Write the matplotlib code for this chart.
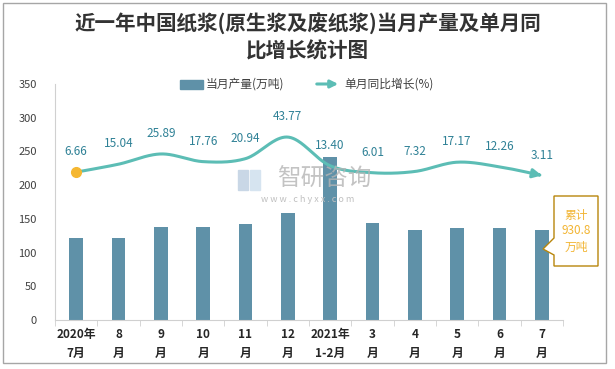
import numpy as np
import matplotlib
matplotlib.use("Agg")
import matplotlib.pyplot as plt
from matplotlib.patches import Rectangle, Polygon

plt.rcParams['font.family'] = ['Noto Sans CJK SC', 'DejaVu Sans']

# =============================
# Data
# =============================
months = ["2020年\n7月", "8\n月", "9\n月", "10\n月", "11\n月", "12\n月",
          "2021年\n1-2月", "3\n月", "4\n月", "5\n月", "6\n月", "7\n月"]
output = [121, 121, 138, 138, 142.5, 159, 242, 144, 133.5, 136.5, 136.5, 133.5]
growth = [6.66, 15.04, 25.89, 17.76, 20.94, 43.77, 13.40, 6.01, 7.32, 17.17, 12.26, 3.11]
total_label = "累计\n930.8\n万吨"

BAR = "#5F91A8"
LINE = "#5CBDB5"
LABEL = "#2F8196"
W, H = 615, 369


def fx(px):
    return px / W


def fy(py):
    return 1 - py / H


def smooth(xs, ys, n=40):
    # Bezier smoothing like the spreadsheet "smoothed line"
    pts = np.column_stack([xs, ys]).astype(float)
    ext = np.vstack([pts[0], pts, pts[-1]])
    out = []
    for i in range(1, len(ext) - 2):
        p0, p1, p2, p3 = ext[i - 1:i + 3]
        t = np.linspace(0, 1, n)[:, None]
        c1 = p1 + (p2 - p0) / 6
        c2 = p2 - (p3 - p1) / 6
        seg = (1 - t)**3 * p1 + 3 * (1 - t)**2 * t * c1 + 3 * (1 - t) * t**2 * c2 + t**3 * p2
        out.append(seg if i == 1 else seg[1:])
    return np.vstack(out)


fig = plt.figure(figsize=(6.15, 3.69), dpi=100)
ax = fig.add_axes([fx(55), fy(320), fx(563) - fx(55), fy(84) - fy(320)])
ax2 = ax.twinx()

x = np.arange(len(months))
ax.bar(x, output, width=0.33, color=BAR, zorder=2)
ax.set_xlim(-0.5, len(months) - 0.5)
ax.set_ylim(0, 350)
ax.set_yticks(range(0, 351, 50))
ax.set_xticks(x)
ax.set_xticklabels(months, fontsize=8.5, fontweight='bold', color='#262626', linespacing=1.6)
ax.set_xticks(np.arange(-0.5, len(months), 1), minor=True)
ax.tick_params(axis='x', which='major', length=0, pad=6)
ax.tick_params(axis='x', which='minor', length=4, color='#D0D0D0')
ax.tick_params(axis='y', length=0, labelsize=8, labelcolor='#404040', pad=13)
for s in ['top', 'right']:
    ax.spines[s].set_visible(False)
ax.spines['left'].set_color('#D0D0D0')
ax.spines['bottom'].set_color('#D0D0D0')

# growth line on hidden secondary axis
ax2.set_ylim(-150, 100)
ax2.axis('off')
curve = smooth(x, growth)
ax2.plot(curve[:-6, 0], curve[:-6, 1], color=LINE, lw=2.2, zorder=3, solid_capstyle='round')
ax2.annotate('', xy=(curve[-1, 0], curve[-1, 1]), xytext=(curve[-8, 0], curve[-8, 1]),
             arrowprops=dict(arrowstyle='-|>', color=LINE, lw=2.2, mutation_scale=13))
ax2.plot(x[0], growth[0], 'o', color='#F5B731', ms=7, zorder=4)
for xi, g in zip(x, growth):
    ax2.annotate(f"{g:.2f}", (xi, g), xytext=(0, 10), textcoords='offset points',
                 ha='center', va='bottom', fontsize=8.5, color=LABEL)

# watermark
fig.text(fx(324), fy(179), "智研咨询", fontsize=17, color='#B5B5B5', alpha=0.8,
         ha='center', va='center')
fig.text(fx(308), fy(199), "w w w . c h y x x . c o m", fontsize=6.5, color='#C0C0C0',
         ha='center', va='center')
fig.patches.append(Rectangle((fx(238), fy(190)), fx(10), fy(170) - fy(190),
                             transform=fig.transFigure, color='#C9D7E6', zorder=0))
fig.patches.append(Rectangle((fx(250), fy(190)), fx(10), fy(170) - fy(190),
                             transform=fig.transFigure, color='#D6E4F0', zorder=0))

# title
fig.text(0.5, fy(24), "近一年中国纸浆(原生浆及废纸浆)当月产量及单月同", ha='center', va='center',
         fontsize=14.8, fontweight='bold', color='#333333')
fig.text(0.5, fy(51), "比增长统计图", ha='center', va='center',
         fontsize=14.8, fontweight='bold', color='#333333')

# legend
fig.patches.append(Rectangle((fx(180), fy(89)), fx(23), fy(80) - fy(89),
                             transform=fig.transFigure, color=BAR))
fig.text(fx(206), fy(84), "当月产量(万吨)", fontsize=8.5, color='#404040', va='center')
fig.add_artist(matplotlib.patches.FancyArrowPatch((fx(314), fy(84)), (fx(341), fy(84)),
                                                  transform=fig.transFigure, arrowstyle='-|>',
                                                  mutation_scale=11, color=LINE, lw=2.2))
fig.text(fx(344), fy(84), "单月同比增长(%)", fontsize=8.5, color='#404040', va='center')

# callout box
pts = [(554, 196), (598, 196), (598, 266), (554, 266), (554, 255), (543, 249), (554, 238)]
fig.patches.append(Polygon([(fx(a), fy(b)) for a, b in pts], closed=True,
                           transform=fig.transFigure, facecolor='white',
                           edgecolor='#B8860B', lw=1, zorder=5))
fig.text(fx(576), fy(231), total_label, ha='center', va='center', fontsize=8.5,
         color='#F2B534', linespacing=1.3, zorder=6)

# outer frame
fig.patches.append(Rectangle((fx(3), fy(363)), fx(606) - fx(3), fy(3) - fy(363),
                             transform=fig.transFigure, fill=False, edgecolor='#A6A6A6', lw=1))

fig.savefig("out.png", dpi=100)
